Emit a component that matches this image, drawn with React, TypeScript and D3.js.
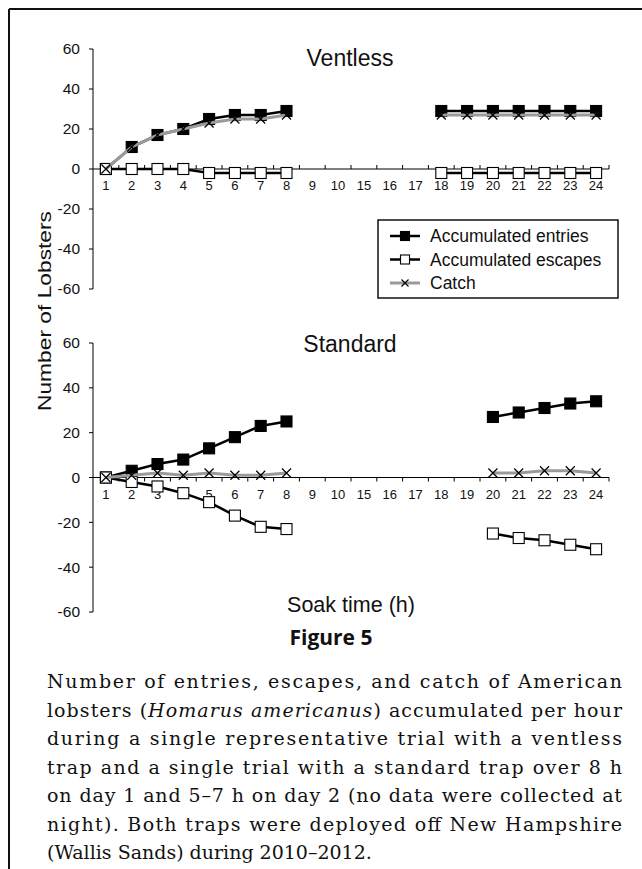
import React from 'react';
import * as d3 from 'd3';

const hours = ['1', '2', '3', '4', '5', '6', '7', '8', '9', '10', '15', '16', '17', '18', '19', '20', '21', '22', '23', '24'];
const yTicks = [-60, -40, -20, 0, 20, 40, 60];

const ventlessEntries = [0, 11, 17, 20, 25, 27, 27, 29, null, null, null, null, null, 29, 29, 29, 29, 29, 29, 29];
const ventlessEscapes = [0, 0, 0, 0, -2, -2, -2, -2, null, null, null, null, null, -2, -2, -2, -2, -2, -2, -2];
const ventlessCatch = [0, 11, 17, 20, 23, 25, 25, 27, null, null, null, null, null, 27, 27, 27, 27, 27, 27, 27];

const standardEntries = [0, 3, 6, 8, 13, 18, 23, 25, null, null, null, null, null, null, null, 27, 29, 31, 33, 34];
const standardEscapes = [0, -2, -4, -7, -11, -17, -22, -23, null, null, null, null, null, null, null, -25, -27, -28, -30, -32];
const standardCatch = [0, 1, 2, 1, 2, 1, 1, 2, null, null, null, null, null, null, null, 2, 2, 3, 3, 2];

const legendLabels = ['Accumulated entries', 'Accumulated escapes', 'Catch'];

const captionLines = [
  'Number of entries, escapes, and catch of American',
  '__ITALIC__',
  'during a single representative trial with a ventless',
  'trap and a single trial with a standard trap over 8 h',
  'on day 1 and 5\u20137 h on day 2 (no data were collected at',
  'night). Both traps were deployed off New Hampshire',
  '(Wallis Sands) during 2010\u20132012.',
];

const SANS = '"Liberation Sans", Arial, Helvetica, sans-serif';
const SERIF = '"DejaVu Serif", serif';

const x = d3.scaleBand<string>().domain(hours).range([93, 609]).padding(0);
const cx = (h: string) => (x(h) as number) + x.bandwidth() / 2;

type Pt = { h: string; v: number | null };
const toPts = (vals: (number | null)[]): Pt[] => hours.map((h, i) => ({ h, v: vals[i] }));

function Square({ px, py, s, fill }: { px: number; py: number; s: number; fill: string }) {
  return <rect x={px - s / 2} y={py - s / 2} width={s} height={s} fill={fill} stroke="#000" strokeWidth={1.1} />;
}
function Cross({ px, py, s }: { px: number; py: number; s: number }) {
  const h = s / 2;
  return (
    <path d={`M${px - h},${py - h}L${px + h},${py + h}M${px - h},${py + h}L${px + h},${py - h}`} stroke="#000" strokeWidth={1.2} fill="none" />
  );
}

function Panel({ title, titleY, yTop, yBottom, tickUp, entries, escapes, catchV }: {
  title: string; titleY: number; yTop: number; yBottom: number; tickUp: boolean;
  entries: (number | null)[]; escapes: (number | null)[]; catchV: (number | null)[];
}) {
  const y = d3.scaleLinear().domain([-60, 60]).range([yBottom, yTop]);
  const line = d3.line<Pt>().defined(d => d.v != null).x(d => cx(d.h)).y(d => y(d.v as number));
  const ent = toPts(entries), esc = toPts(escapes), cat = toPts(catchV);
  const y0 = y(0);
  const bounds = d3.range(hours.length + 1).map(i => 93 + i * x.bandwidth());
  return (
    <g>
      <text x={350} y={titleY} textAnchor="middle" fontFamily={SANS} fontSize={23} fill="#111">{title}</text>
      <line x1={93} x2={93} y1={y(60)} y2={y(-60)} stroke="#000" strokeWidth={1} />
      {yTicks.map(t => (
        <g key={t}>
          <line x1={89} x2={93} y1={y(t)} y2={y(t)} stroke="#000" strokeWidth={1} />
          <text x={80} y={y(t)} dy="0.35em" textAnchor="end" fontFamily={SANS} fontSize={15.5} fill="#111">{t}</text>
        </g>
      ))}
      <line x1={93} x2={609} y1={y0} y2={y0} stroke="#000" strokeWidth={1} />
      {bounds.slice(1).map((b, i) => (
        <line key={i} x1={b} x2={b} y1={y0} y2={tickUp ? y0 - 4 : y0 + 4} stroke="#000" strokeWidth={1} />
      ))}
      {hours.map(h => (
        <text key={h} x={cx(h)} y={y0 + 21} textAnchor="middle" fontFamily={SANS} fontSize={13} fill="#111">{h}</text>
      ))}
      <path d={line(ent) || ''} fill="none" stroke="#000" strokeWidth={2.5} />
      {ent.filter(d => d.v != null).map(d => <Square key={'e' + d.h} px={cx(d.h)} py={y(d.v as number)} s={11} fill="#000" />)}
      <path d={line(esc) || ''} fill="none" stroke="#000" strokeWidth={2.5} />
      {esc.filter(d => d.v != null).map(d => <Square key={'s' + d.h} px={cx(d.h)} py={y(d.v as number)} s={11} fill="#fff" />)}
      <path d={line(cat) || ''} fill="none" stroke="#9a9a9a" strokeWidth={3} />
      {cat.filter(d => d.v != null).map(d => <Cross key={'c' + d.h} px={cx(d.h)} py={y(d.v as number)} s={9} />)}
    </g>
  );
}

export default function App() {
  const captionY = d3.range(captionLines.length).map(i => 688 + i * 28.5);
  return (
    <svg width={642} height={869} style={{ position: 'absolute', left: 0, top: 0, background: '#fff' }}>
      <rect x={0} y={0} width={642} height={869} fill="#fff" />
      <line x1={9} x2={642} y1={9} y2={9} stroke="#111" strokeWidth={2} />
      <line x1={9} x2={9} y1={9} y2={869} stroke="#111" strokeWidth={2} />

      <Panel title="Ventless" titleY={66} yTop={49} yBottom={289} tickUp={true}
        entries={ventlessEntries} escapes={ventlessEscapes} catchV={ventlessCatch} />
      <Panel title="Standard" titleY={352} yTop={343} yBottom={612} tickUp={false}
        entries={standardEntries} escapes={standardEscapes} catchV={standardCatch} />

      <g>
        <rect x={378} y={220} width={240} height={78} fill="#fff" stroke="#111" strokeWidth={1.5} />
        {legendLabels.map((lab, i) => {
          const ly = 236 + i * 23.5;
          return (
            <g key={lab}>
              <line x1={390} x2={420} y1={ly} y2={ly} stroke={i === 2 ? '#9a9a9a' : '#000'} strokeWidth={i === 2 ? 3 : 2.5} />
              {i === 0 && <Square px={405} py={ly} s={9} fill="#000" />}
              {i === 1 && <Square px={405} py={ly} s={9} fill="#fff" />}
              {i === 2 && <Cross px={405} py={ly} s={7} />}
              <text x={430} y={ly} dy="0.35em" fontFamily={SANS} fontSize={17.5} fill="#111">{lab}</text>
            </g>
          );
        })}
      </g>

      <text transform="translate(51,311) rotate(-90)" textAnchor="middle" fontFamily={SANS} fontSize={19}
        textLength={200} lengthAdjust="spacingAndGlyphs" fill="#111">Number of Lobsters</text>
      <text x={351} y={612} textAnchor="middle" fontFamily={SANS} fontSize={21.5} fill="#111">Soak time (h)</text>
      <text x={331} y={645} textAnchor="middle" fontFamily={'"Open Sans", sans-serif'} fontWeight={700} fontSize={21} fill="#111">Figure 5</text>

      {captionLines.map((ln, i) => {
        const last = i === captionLines.length - 1;
        if (ln === '__ITALIC__') {
          return (
            <text key={i} x={47} y={captionY[i]} fontFamily={SERIF} fontSize={19} fill="#111"
              textLength={575} lengthAdjust="spacing">
              lobsters (<tspan fontStyle="italic">Homarus americanus</tspan>)  accumulated per hour
            </text>
          );
        }
        return (
          <text key={i} x={47} y={captionY[i]} fontFamily={SERIF} fontSize={19} fill="#111"
            {...(last ? {} : { textLength: 575, lengthAdjust: 'spacing' })}>{ln}</text>
        );
      })}
    </svg>
  );
}
